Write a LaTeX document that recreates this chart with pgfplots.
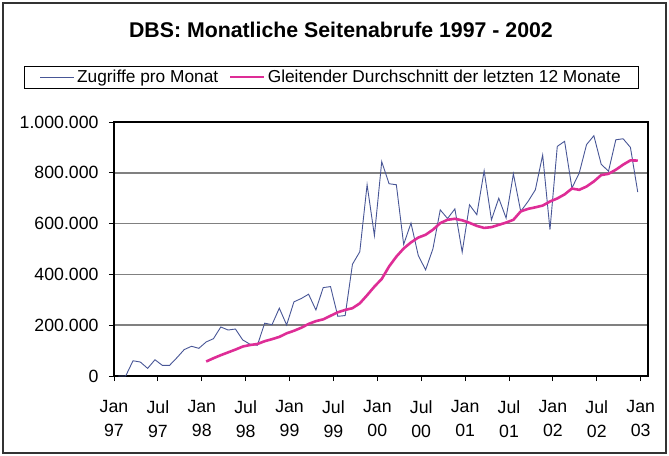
\documentclass[border=0pt]{standalone}
\usepackage{pgfplots}
\pgfplotsset{compat=1.18}
\usepackage{fontspec}
\setmainfont{Liberation Sans}

\definecolor{zugriff}{RGB}{72,86,150}
\definecolor{gleit}{RGB}{222,45,150}
\definecolor{gridgray}{RGB}{128,128,128}

% monthly values, x = month index (Jan 97 = 0) + 0.6
\pgfplotstableread{
x      y
0.6    0
1.6    0
2.6    60000
3.6    55000
4.6    30000
5.6    64000
6.6    42000
7.6    42000
8.6    72000
9.6    104000
10.6   117000
11.6   109000
12.6   134000
13.6   147000
14.6   193000
15.6   181000
16.6   185000
17.6   142000
18.6   125000
19.6   121000
20.6   208000
21.6   202000
22.6   267000
23.6   201000
24.6   292000
25.6   305000
26.6   322000
27.6   260000
28.6   348000
29.6   352000
30.6   235000
31.6   238000
32.6   440000
33.6   489000
34.6   753000
35.6   553000
36.6   844000
37.6   757000
38.6   753000
39.6   518000
40.6   602000
41.6   474000
42.6   418000
43.6   501000
44.6   654000
45.6   620000
46.6   658000
47.6   488000
48.6   674000
49.6   635000
50.6   808000
51.6   615000
52.6   700000
53.6   622000
54.6   796000
55.6   648000
56.6   687000
57.6   733000
58.6   870000
59.6   576000
60.6   904000
61.6   924000
62.6   740000
63.6   799000
64.6   911000
65.6   946000
66.6   834000
67.6   806000
68.6   930000
69.6   934000
70.6   900000
71.6   724000
}\zugriffe

\pgfplotstableread{
x      y
12.6   57000
13.6   70000
14.6   82000
15.6   93000
16.6   104000
17.6   116000
18.6   122000
19.6   126000
20.6   137000
21.6   145000
22.6   154000
23.6   168000
24.6   178000
25.6   190000
26.6   205000
27.6   216000
28.6   223000
29.6   237000
30.6   251000
31.6   260000
32.6   267000
33.6   286000
34.6   318000
35.6   352000
36.6   382000
37.6   431000
38.6   470000
39.6   502000
40.6   526000
41.6   545000
42.6   556000
43.6   576000
44.6   602000
45.6   615000
46.6   619000
47.6   613000
48.6   603000
49.6   591000
50.6   583000
51.6   586000
52.6   595000
53.6   604000
54.6   615000
55.6   648000
56.6   658000
57.6   664000
58.6   671000
59.6   687000
60.6   699000
61.6   715000
62.6   738000
63.6   733000
64.6   746000
65.6   766000
66.6   791000
67.6   796000
68.6   812000
69.6   832000
70.6   849000
71.6   848000
}\gleitend

\begin{document}
\begin{tikzpicture}
\path[use as bounding box] (-114bp,-80bp) rectangle (555bp,376bp);
\draw[line width=1.4bp, black!80] (-111bp,-77bp) rectangle (552bp,373bp);
\begin{axis}[
    scale only axis,
    width=534bp, height=254bp,
    xmin=0, xmax=73,
    ymin=0, ymax=1000000,
    xtick={0,6,...,72},
    xticklabels={Jan\\97,Jul\\97,Jan\\98,Jul\\98,Jan\\99,Jul\\99,Jan\\00,Jul\\00,Jan\\01,Jul\\01,Jan\\02,Jul\\02,Jan\\03},
    ytick={0,200000,400000,600000,800000,1000000},
    yticklabels={0,200.000,400.000,600.000,800.000,1.000.000},
    scaled y ticks=false,
    tick align=outside,
    major tick length=5bp,
    tick style={black, line width=0.9bp},
    xtick pos=bottom, ytick pos=left,
    axis line style={black, line width=1.1bp},
    ymajorgrids,
    major grid style={gridgray, line width=1.5bp},
    ticklabel style={font=\fontsize{17.7bp}{24bp}\selectfont},
    xticklabel style={align=center, yshift=-16bp},
    yticklabel style={xshift=-7bp},
    legend columns=2,
    legend style={
        at={(0.4073,1.1772)}, anchor=center,
        draw=black, line width=0.8bp,
        font=\fontsize{17.3bp}{20bp}\selectfont,
        column sep=0bp,
        /tikz/every even column/.append style={column sep=8bp},
        nodes={inner xsep=2.5bp},
        inner xsep=15bp, inner ysep=2bp,
    },
    legend image code/.code={\draw[#1] (0bp,0bp) -- (34bp,0bp);},
    clip=false,
]
\addplot[zugriff, line width=0.9bp] table[x=x,y=y] {\zugriffe};
\addlegendentry{Zugriffe pro Monat}
\addplot[gleit, line width=2.6bp] table[x=x,y=y] {\gleitend};
\addlegendentry{Gleitender Durchschnitt der letzten 12 Monate}
\node[font=\bfseries\fontsize{21.3bp}{24bp}\selectfont] at (rel axis cs:0.425,1.362) {DBS: Monatliche Seitenabrufe 1997 - 2002};
\end{axis}
\end{tikzpicture}
\end{document}
